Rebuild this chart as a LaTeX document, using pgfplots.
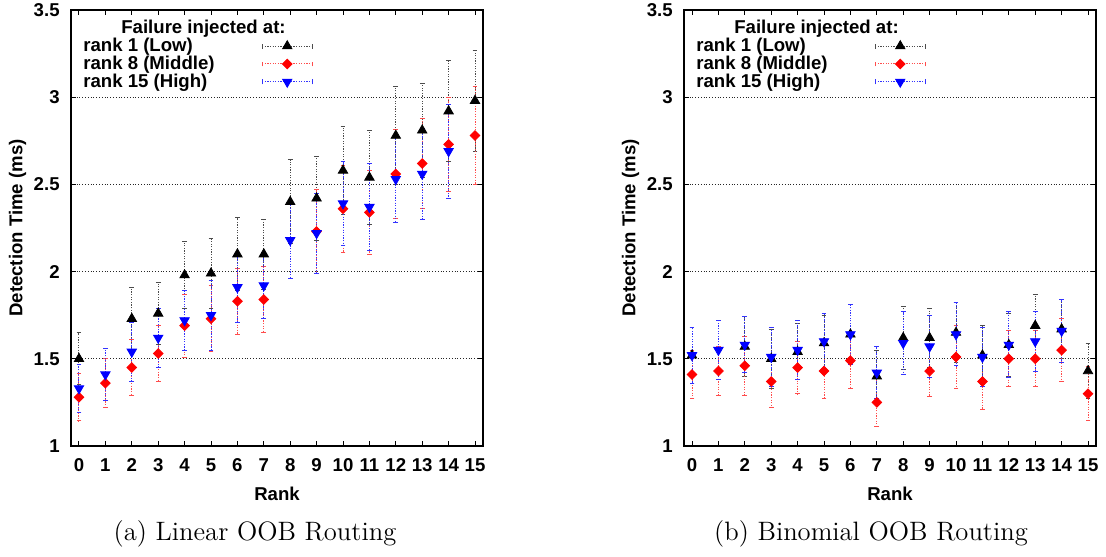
\documentclass[border=0pt]{standalone}
\usepackage{fontspec}
\newfontfamily\lsans{Liberation Sans}
\usepackage{pgfplots}
\usepackage{pgfplotstable}
\pgfplotsset{compat=1.18}

\pgfplotstableread{
x y e
0 1.50 0.15
2 1.73 0.18
3 1.76 0.18
4 1.98 0.19
5 1.99 0.20
6 2.10 0.21
7 2.10 0.20
8 2.40 0.24
9 2.42 0.24
10 2.58 0.25
11 2.54 0.27
12 2.78 0.28
13 2.81 0.27
14 2.92 0.29
15 2.98 0.29
}\linlow
\pgfplotstableread{
x y e
0 1.28 0.135
1 1.36 0.14
2 1.45 0.16
3 1.53 0.16
4 1.69 0.18
5 1.73 0.19
6 1.83 0.19
7 1.84 0.19
9 2.23 0.24
10 2.36 0.25
11 2.34 0.24
12 2.56 0.255
13 2.62 0.26
14 2.73 0.27
15 2.78 0.28
}\linmid
\pgfplotstableread{
x y e
0 1.33 0.14
1 1.41 0.15
2 1.54 0.17
3 1.62 0.17
4 1.72 0.17
5 1.75 0.20
6 1.91 0.20
7 1.92 0.19
8 2.18 0.22
9 2.22 0.23
10 2.39 0.24
11 2.37 0.25
12 2.53 0.25
13 2.56 0.26
14 2.69 0.27
}\linhigh
\pgfplotstableread{
x y e
0 1.52 0.16
2 1.57 0.17
3 1.50 0.17
4 1.54 0.16
5 1.59 0.16
6 1.64 0.17
7 1.40 0.15
8 1.62 0.18
9 1.62 0.17
10 1.65 0.17
11 1.52 0.17
12 1.58 0.18
13 1.69 0.18
14 1.67 0.17
15 1.43 0.155
}\binlow
\pgfplotstableread{
x y e
0 1.41 0.14
1 1.43 0.14
2 1.46 0.17
3 1.37 0.15
4 1.45 0.15
5 1.43 0.16
6 1.49 0.16
7 1.25 0.14
9 1.43 0.145
10 1.51 0.18
11 1.37 0.16
12 1.50 0.16
13 1.50 0.16
14 1.55 0.18
15 1.30 0.155
}\binmid
\pgfplotstableread{
x y e
0 1.52 0.16
1 1.55 0.17
2 1.58 0.16
3 1.51 0.17
4 1.55 0.17
5 1.60 0.16
6 1.64 0.17
7 1.42 0.15
8 1.59 0.18
9 1.57 0.18
10 1.64 0.18
11 1.51 0.17
12 1.58 0.19
13 1.60 0.17
14 1.66 0.18
}\binhigh

\newcommand{\lfont}{\lsans\bfseries\fontsize{9.3}{10}\selectfont}
\newcommand{\lbox}[1]{\makebox[86pt][l]{\rule[-2.2pt]{0pt}{8.8pt}#1}}

\pgfplotsset{
  myaxis/.style={
    width=206pt, height=218pt, scale only axis,
    xmin=-0.303, xmax=15.303, ymin=1, ymax=3.5,
    xtick={0,1,2,3,4,5,6,7,8,9,10,11,12,13,14,15},
    xticklabels={0,1,2,3,4,5,6,7,8,9,10,11,12,13,14,15},
    ytick={1,1.5,2,2.5,3,3.5},
    yticklabels={1,1.5,2,2.5,3,3.5},
    ymajorgrids,
    grid style={dash pattern=on 0.5pt off 0.9pt, line width=0.45pt, black!85},
    tick style={line width=0.5pt, black},
    major tick length=2.5pt,
    tick align=inside,
    axis line style={line width=1pt},
    tick label style={font=\lfont},
    xticklabel style={anchor=base, yshift=-12.9pt},
    yticklabel style={anchor=east, inner sep=0pt, xshift=-5.5pt},
    every axis x label/.style={at={(axis description cs:0.5,0)}, anchor=base, yshift=-27pt, font=\lfont},
    every axis y label/.style={at={(axis description cs:-0.1299,0.5)}, rotate=90, anchor=center, font=\lfont},
    xlabel={Rank},
    ylabel={Detection Time (ms)},
    legend plot pos=right,
    legend cell align=left,
    legend style={at={(axis description cs:0.029,0.978)}, anchor=north west,
      draw=none, fill=none, inner sep=0pt, outer sep=0pt,
      row sep=0.3pt, column sep=3pt, font=\lfont,
      nodes={inner sep=0.2pt}},
  },
  errb/.style={
    only marks,
    error bars/y dir=both, error bars/y explicit,
    error bars/error mark=|,
    error bars/error mark options={solid, line width=0.5pt, mark size=1.2pt, #1},
    error bars/error bar style={dash pattern=on 0.6pt off 0.7pt, line width=0.5pt, #1},
  },
  lowplot/.style={errb=black!70, mark=triangle*, mark size=2.7pt,
    mark options={solid, draw=black, fill=black},
    legend image code/.code={
      \draw[black!70, dash pattern=on 0.6pt off 0.7pt, line width=0.5pt] (0pt,0pt) -- (25pt,0pt);
      \draw[black!70, line width=0.5pt] (0pt,-1.2pt) -- (0pt,1.2pt) (25pt,-1.2pt) -- (25pt,1.2pt);
      \draw[black, fill=black] plot[mark=triangle*, mark size=2.7pt] coordinates {(12.5pt,0pt)};
    }},
  midplot/.style={errb=red!70, mark=square*, mark size=1.7pt,
    mark options={solid, rotate=45, draw=red, fill=red},
    legend image code/.code={
      \draw[red!70, dash pattern=on 0.6pt off 0.7pt, line width=0.5pt] (0pt,0pt) -- (25pt,0pt);
      \draw[red!70, line width=0.5pt] (0pt,-1.2pt) -- (0pt,1.2pt) (25pt,-1.2pt) -- (25pt,1.2pt);
      \draw[red, fill=red] plot[mark=square*, mark size=1.7pt, mark options={rotate=45}] coordinates {(12.5pt,0pt)};
    }},
  highplot/.style={errb=blue!80, mark=triangle*, mark size=2.7pt,
    mark options={solid, rotate=180, draw=blue, fill=blue},
    legend image code/.code={
      \draw[blue!80, dash pattern=on 0.6pt off 0.7pt, line width=0.5pt] (0pt,0pt) -- (25pt,0pt);
      \draw[blue!80, line width=0.5pt] (0pt,-1.2pt) -- (0pt,1.2pt) (25pt,-1.2pt) -- (25pt,1.2pt);
      \draw[blue, fill=blue] plot[mark=triangle*, mark size=2.7pt, mark options={rotate=180}] coordinates {(12.5pt,0pt)};
    }},
}

\begin{document}
\begin{tikzpicture}
\path[use as bounding box] (-35.5pt,-55pt) rectangle (517.5pt,223pt);

\begin{axis}[myaxis, at={(0pt,0pt)}, anchor=south west]
\addlegendimage{empty legend}
\addlegendentry{\lbox{\hspace*{19pt}Failure injected at:}}
\addplot[lowplot] table[x=x, y=y, y error=e] {\linlow};
\addlegendentry{\lbox{rank 1 (Low)}}
\addplot[midplot] table[x=x, y=y, y error=e] {\linmid};
\addlegendentry{\lbox{rank 8 (Middle)}}
\addplot[highplot] table[x=x, y=y, y error=e] {\linhigh};
\addlegendentry{\lbox{rank 15 (High)}}
\end{axis}

\begin{axis}[myaxis, at={(306.5pt,0pt)}, anchor=south west]
\addlegendimage{empty legend}
\addlegendentry{\lbox{\hspace*{19pt}Failure injected at:}}
\addplot[lowplot] table[x=x, y=y, y error=e] {\binlow};
\addlegendentry{\lbox{rank 1 (Low)}}
\addplot[midplot] table[x=x, y=y, y error=e] {\binmid};
\addlegendentry{\lbox{rank 8 (Middle)}}
\addplot[highplot] table[x=x, y=y, y error=e] {\binhigh};
\addlegendentry{\lbox{rank 15 (High)}}
\end{axis}

\node[font=\fontsize{13.3}{16}\selectfont, anchor=base] at (92pt,-47pt) {(a) Linear OOB Routing};
\node[font=\fontsize{13.3}{16}\selectfont, anchor=base] at (400pt,-47pt) {(b) Binomial OOB Routing};
\end{tikzpicture}
\end{document}
